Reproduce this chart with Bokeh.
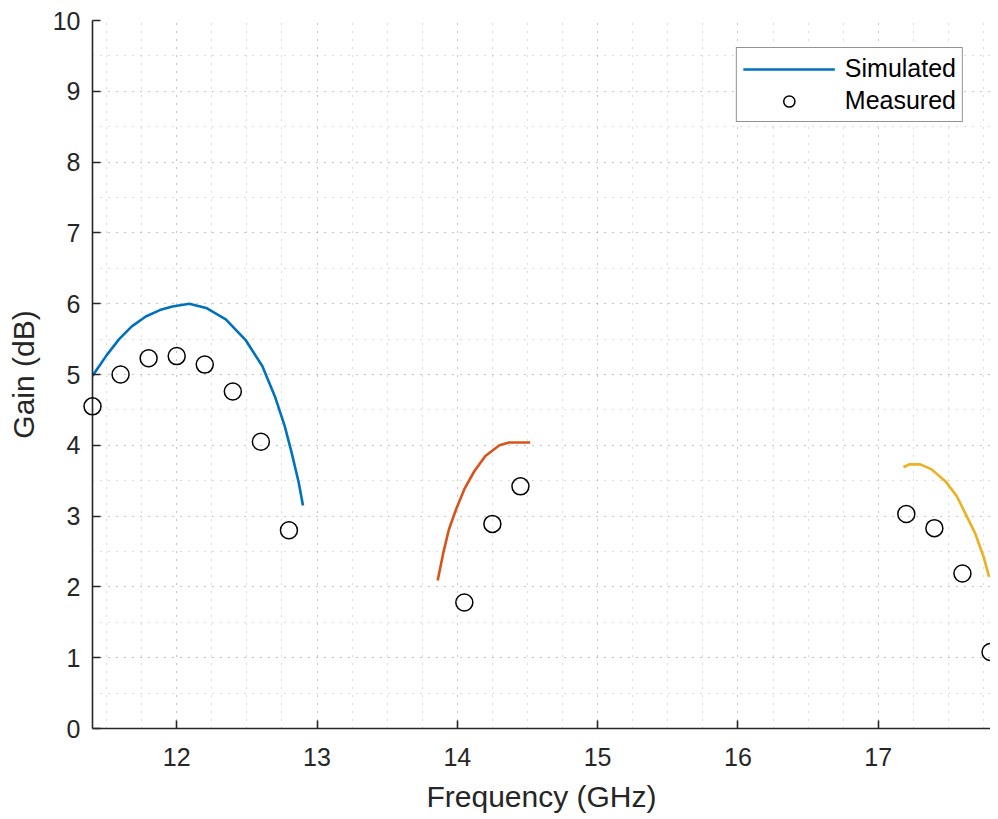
from bokeh.plotting import figure
from bokeh.models import SingleIntervalTicker, Range1d, Legend, LegendItem
from bokeh.embed import file_html
from bokeh.resources import INLINE

# Simulated curves (three bands)
sim1_x = [11.40, 11.50, 11.59, 11.68, 11.78, 11.88, 11.97, 12.09, 12.21, 12.35, 12.49, 12.61, 12.70, 12.77, 12.82, 12.87, 12.90]
sim1_y = [4.98, 5.27, 5.50, 5.68, 5.82, 5.91, 5.96, 6.00, 5.94, 5.78, 5.49, 5.12, 4.69, 4.27, 3.89, 3.47, 3.15]

sim2_x = [13.86, 13.90, 13.94, 13.99, 14.05, 14.12, 14.20, 14.30, 14.37, 14.52]
sim2_y = [2.09, 2.48, 2.81, 3.09, 3.38, 3.63, 3.85, 4.00, 4.04, 4.04]

sim3_x = [17.18, 17.22, 17.30, 17.38, 17.48, 17.56, 17.63, 17.69, 17.75, 17.79]
sim3_y = [3.69, 3.73, 3.73, 3.66, 3.49, 3.28, 3.00, 2.76, 2.43, 2.14]

# Measured points
meas_x = [11.4, 11.6, 11.8, 12.0, 12.2, 12.4, 12.6, 12.8, 14.05, 14.25, 14.45, 17.2, 17.4, 17.6, 17.8]
meas_y = [4.55, 5.00, 5.23, 5.26, 5.14, 4.76, 4.05, 2.80, 1.78, 2.89, 3.42, 3.03, 2.83, 2.19, 1.08]

x_label = "Frequency (GHz)"
y_label = "Gain (dB)"
legend_labels = ["Simulated", "Measured"]

FONT = "Liberation Sans"
AX = "#262626"

p = figure(output_backend="svg", toolbar_location=None,
           frame_width=898, frame_height=708,
           min_border_left=92, min_border_top=20, min_border_right=0, min_border_bottom=86,
           x_range=Range1d(11.4, 17.8), y_range=Range1d(0, 10),
           background_fill_color="white", border_fill_color="white")
p.outline_line_color = None

p.xaxis.ticker = SingleIntervalTicker(interval=1, num_minor_ticks=4)
p.yaxis.ticker = SingleIntervalTicker(interval=1, num_minor_ticks=2)

for ax in (p.xaxis, p.yaxis):
    ax.axis_line_color = AX
    ax.axis_line_width = 1.6
    ax.major_tick_line_color = AX
    ax.major_tick_line_width = 1.6
    ax.major_tick_in = 8
    ax.major_tick_out = 0
    ax.minor_tick_in = 0
    ax.minor_tick_out = 0
    ax.major_label_text_font = FONT
    ax.major_label_text_font_size = "25px"
    ax.major_label_text_color = AX
    ax.axis_label_text_font = FONT
    ax.axis_label_text_font_size = "30px"
    ax.axis_label_text_font_style = "normal"
    ax.axis_label_text_color = AX

p.xaxis.axis_label = x_label
p.yaxis.axis_label = y_label
p.xaxis.major_label_standoff = 19
p.yaxis.major_label_standoff = 12
p.xaxis.axis_label_standoff = 11
p.yaxis.axis_label_standoff = 10

for g in (p.xgrid, p.ygrid):
    g.grid_line_color = "#9a9a9a"
    g.grid_line_alpha = 0.7
    g.grid_line_dash = "1 7"
    g.grid_line_width = 1
    g.minor_grid_line_color = "#9a9a9a"
    g.minor_grid_line_alpha = 0.7
    g.minor_grid_line_dash = "1 7"
    g.minor_grid_line_width = 1

l1 = p.line(sim1_x, sim1_y, line_color="#0072BD", line_width=2.6, line_join="round")
p.line(sim2_x, sim2_y, line_color="#D95319", line_width=2.6, line_join="round")
p.line(sim3_x, sim3_y, line_color="#EDB120", line_width=2.6, line_join="round")
sc = p.scatter(meas_x, meas_y, marker="circle", size=17, fill_color=None,
               line_color="black", line_width=1.5, level="overlay")

legend = Legend(items=[LegendItem(label=legend_labels[0], renderers=[l1]),
                       LegendItem(label=legend_labels[1], renderers=[sc])],
                location="top_right")
legend.margin = 27
legend.padding = 6
legend.spacing = 3
legend.glyph_width = 92
legend.glyph_height = 28
legend.label_height = 28
legend.label_standoff = 10
legend.label_text_font = FONT
legend.label_text_font_size = "25px"
legend.label_text_color = "black"
legend.border_line_color = AX
legend.border_line_width = 1.6
legend.background_fill_color = "white"
legend.background_fill_alpha = 1.0
p.add_layout(legend, "center")

open("out.html", "w").write(file_html(p, INLINE))
